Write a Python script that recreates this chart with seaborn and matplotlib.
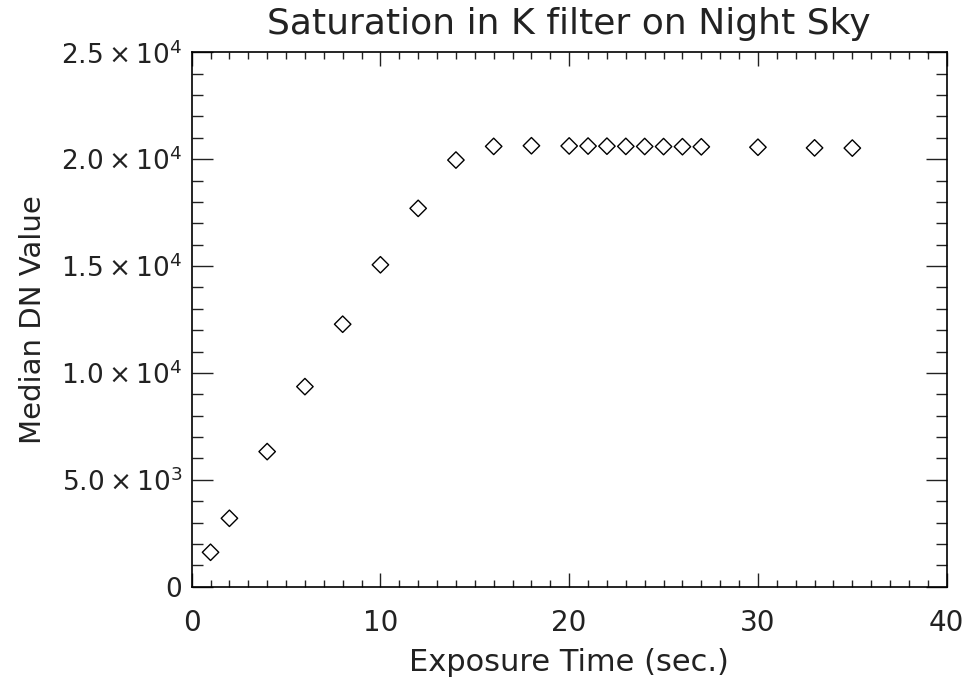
import matplotlib
matplotlib.use("Agg")
import matplotlib.pyplot as plt
import seaborn as sns
import pandas as pd
from matplotlib.ticker import MultipleLocator, FixedLocator, FixedFormatter

exposure = [1, 2, 4, 6, 8, 10, 12, 14, 16, 18, 20, 21, 22, 23, 24, 25, 26, 27, 30, 33, 35]
median_dn = [1610, 3200, 6320, 9360, 12280, 15060, 17700, 19960, 20600, 20630,
             20620, 20615, 20610, 20600, 20595, 20590, 20585, 20580, 20560, 20530, 20520]
ytick_vals = [0, 5000, 10000, 15000, 20000, 25000]
ytick_labels = ["0", r"$5.0\times10^{3}$", r"$1.0\times10^{4}$", r"$1.5\times10^{4}$",
                r"$2.0\times10^{4}$", r"$2.5\times10^{4}$"]

df = pd.DataFrame({"Exposure": exposure, "Median": median_dn})

sns.set_style("white")
plt.rcParams["font.family"] = ["DejaVu Sans"]
plt.rcParams["mathtext.fontset"] = "dejavusans"
plt.rcParams["text.color"] = "#222222"
plt.rcParams["axes.labelcolor"] = "#222222"
plt.rcParams["xtick.color"] = "#222222"
plt.rcParams["ytick.color"] = "#222222"

fig = plt.figure(figsize=(9.68, 6.77), dpi=100)
ax = fig.add_axes([0.198, 0.1334, 0.780, 0.7893])

sns.scatterplot(data=df, x="Exposure", y="Median", marker="D", s=70,
                facecolor="none", edgecolor="black", linewidth=1.0, ax=ax)

ax.set_xlim(0, 40)
ax.set_ylim(0, 25000)
ax.xaxis.set_major_locator(MultipleLocator(10))
ax.xaxis.set_minor_locator(MultipleLocator(1))
ax.yaxis.set_major_locator(FixedLocator(ytick_vals))
ax.yaxis.set_major_formatter(FixedFormatter(ytick_labels))
ax.yaxis.set_minor_locator(MultipleLocator(1000))

ax.tick_params(which="both", direction="in", top=True, right=True,
               bottom=True, left=True, width=1)
ax.tick_params(axis="x", which="major", length=10, labelsize=20, pad=16)
ax.tick_params(axis="x", which="minor", length=5)
ax.tick_params(axis="y", which="major", length=15, labelsize=19, pad=7)
ax.tick_params(axis="y", which="minor", length=8)
for sp in ax.spines.values():
    sp.set_color("black")
    sp.set_linewidth(1.2)
    sp.set_visible(True)

ax.set_xlabel("Exposure Time (sec.)", fontsize=22, labelpad=8)
ax.set_ylabel("Median DN Value", fontsize=21, labelpad=10)
ax.set_title("Saturation in K filter on Night Sky", fontsize=26, pad=13)

fig.savefig("out.png", dpi=100, facecolor="white")
